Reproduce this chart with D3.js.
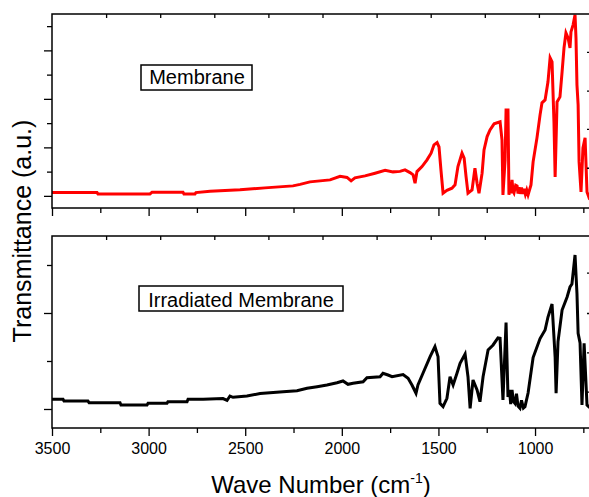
<!DOCTYPE html>
<html>
<head>
<meta charset="utf-8">
<script src="https://cdn.jsdelivr.net/npm/d3@7"></script>
<style>
    body { margin: 0; background: white; }
    svg { display: block; font-family: Arial, "Liberation Sans", sans-serif; }
</style>
</head>
<body>
<svg id="chart" width="589" height="497"></svg>
<script>
// values (wave number in cm-1, transmittance in a.u.)
const membraneWave = [3500,3267,3262,2993,2982,2822,2817,2760,2755,2682,2527,2398,2253,2216,2165,2061,2009,1973,1952,1932,1880,1828,1776,1735,1699,1673,1647,1631,1621,1611,1585,1559,1538,1523,1507,1497,1487,1476,1456,1430,1414,1399,1378,1367,1357,1347,1326,1311,1300,1290,1274,1264,1248,1233,1212,1181,1171,1166,1155,1150,1140,1135,1130,1125,1119,1114,1109,1100,1093,1088,1083,1078,1070,1062,1057,1050,1043,1036,1021,1010,990,974,964,948,933,922,912,902,896,886,871,860,850,840,829,819,814,803,793,788,783,777,772,762,752,741,731,720,705];
const membraneT = [0.068,0.068,0.041,0.041,0.076,0.076,0.041,0.041,0.068,0.093,0.124,0.165,0.206,0.237,0.289,0.330,0.402,0.381,0.309,0.371,0.412,0.468,0.526,0.495,0.505,0.536,0.480,0.433,0.262,0.501,0.604,0.742,0.880,1.052,1.099,1.010,0.536,0.056,0.113,0.159,0.227,0.604,0.880,0.777,0.398,0.056,0.124,0.571,0.262,0.056,0.468,0.948,1.223,1.361,1.485,1.526,1.155,0.021,0.742,1.773,1.773,0.021,0.25,0.05,0.330,0.10,0.062,0.22,0.206,0.05,0.18,0.041,0.17,0.04,0.144,0.03,0.12,0.021,0.227,0.701,1.196,1.670,1.918,1.979,2.351,2.845,2.763,1.526,0.392,1.938,2.041,2.557,3.052,3.361,3.258,3.052,3.381,3.526,3.732,3.258,2.289,1.876,0.701,0.082,0.990,1.196,0.082,-0.041,0.0];

const irradWave = [3500,3443,3438,3314,3308,3148,3143,3008,3003,2905,2900,2801,2796,2718,2615,2594,2579,2563,2491,2423,2304,2232,2180,2128,2077,2025,1994,1968,1942,1890,1870,1802,1787,1761,1740,1683,1657,1637,1616,1606,1580,1543,1518,1502,1492,1476,1456,1440,1424,1404,1388,1362,1347,1336,1321,1300,1285,1269,1243,1217,1192,1181,1166,1150,1140,1132,1126,1119,1112,1104,1096,1088,1078,1070,1060,1052,1036,1010,974,948,933,912,896,891,881,860,834,819,809,793,783,777,767,757,746,731,720,705];
const irradT = [0.101,0.101,0.083,0.083,0.066,0.066,0.042,0.042,0.059,0.059,0.076,0.076,0.101,0.101,0.109,0.089,0.135,0.122,0.135,0.161,0.180,0.191,0.216,0.232,0.250,0.274,0.292,0.257,0.268,0.284,0.325,0.336,0.372,0.354,0.336,0.359,0.320,0.250,0.164,0.250,0.372,0.545,0.649,0.545,0.059,0.024,0.111,0.336,0.250,0.372,0.476,0.573,0.336,0.007,0.302,0.198,0.076,0.336,0.615,0.667,0.740,0.736,0.094,0.901,0.125,0.20,0.05,0.198,0.08,0.059,0.16,0.03,0.007,0.09,0.01,0.024,0.167,0.536,0.734,0.823,0.958,1.094,0.542,0.164,0.703,1.031,1.167,1.271,1.302,1.604,1.205,0.789,0.688,0.042,0.684,0.042,0.021,0.03];

// ticks
const xLabelTicks = [3500,3000,2500,2000,1500,1000];
const xMinorTicks = [3250,2750,2250,1750,1250,750];
const xTopTicks = [3220,2940,2660,2380,2100,1820,1540,1260,980];
const topMajor = [0,1,2,3], topMinor = [0.5,1.5,2.5,3.5], topRight = [0.58,1.38,2.17,2.97];
const botMajor = [0,1], botMinor = [0.5,1.5], botRight = [0.18,0.59,1.0,1.42];

const svg = d3.select("#chart");
const left = 52, right = 593;
const x = d3.scaleLinear().domain([3500, 700]).range([left, right]);

const panels = [
    {id: "top", wave: membraneWave, t: membraneT, color: "#ff0000", top: 14, bottom: 208,
     domain: [-0.25, 3.75], major: topMajor, minor: topMinor, rightT: topRight, labels: false,
     note: "Membrane", box: [141, 65, 111, 25], textX: 197, textY: 84},
    {id: "bot", wave: irradWave, t: irradT, color: "#000000", top: 236, bottom: 428,
     domain: [-0.198, 1.802], major: botMajor, minor: botMinor, rightT: botRight, labels: true,
     note: "Irradiated Membrane", box: [139, 286, 204, 25], textX: 241, textY: 307}
];

function styleAxis(g) {
    g.select(".domain").remove();
    g.selectAll(".tick line").attr("stroke", "#000").attr("stroke-width", 1.3);
}

panels.forEach(p => {
    let y = d3.scaleLinear().domain(p.domain).range([p.bottom, p.top]);
    let g = svg.append("g");

    g.append("clipPath").attr("id", "clip-" + p.id)
        .append("rect").attr("x", left).attr("y", p.top)
        .attr("width", right - left).attr("height", p.bottom - p.top);

    let line = d3.line().x(d => x(d[0])).y(d => y(d[1]));
    g.append("path")
        .datum(d3.zip(p.wave, p.t))
        .attr("clip-path", "url(#clip-" + p.id + ")")
        .attr("fill", "none")
        .attr("stroke", p.color)
        .attr("stroke-width", 3)
        .attr("stroke-linejoin", "miter")
        .attr("d", line);

    // bottom axis
    g.append("g").attr("transform", "translate(0," + p.bottom + ")")
        .call(d3.axisBottom(x).tickValues(xMinorTicks).tickSize(5).tickFormat(""))
        .call(styleAxis);
    let bx = g.append("g").attr("transform", "translate(0," + p.bottom + ")")
        .call(d3.axisBottom(x).tickValues(xLabelTicks).tickSize(8).tickPadding(7)
              .tickFormat(p.labels ? d3.format("d") : ""))
        .call(styleAxis);
    bx.selectAll("text").attr("font-size", 16).attr("fill", "#000")
        .attr("font-family", "Arial, 'Liberation Sans', sans-serif");

    // top axis (inward ticks)
    g.append("g").attr("transform", "translate(0," + p.top + ")")
        .call(d3.axisBottom(x).tickValues(xTopTicks).tickSize(4).tickFormat(""))
        .call(styleAxis);

    // left axis
    g.append("g").attr("transform", "translate(" + left + ",0)")
        .call(d3.axisLeft(y).tickValues(p.major).tickSize(8).tickFormat(""))
        .call(styleAxis);
    g.append("g").attr("transform", "translate(" + left + ",0)")
        .call(d3.axisLeft(y).tickValues(p.minor).tickSize(5).tickFormat(""))
        .call(styleAxis);

    // right axis (inward ticks)
    g.append("g").attr("transform", "translate(" + right + ",0)")
        .call(d3.axisLeft(y).tickValues(p.rightT).tickSize(6).tickFormat(""))
        .call(styleAxis);

    // frame
    g.append("rect")
        .attr("x", left).attr("y", p.top)
        .attr("width", right - left).attr("height", p.bottom - p.top)
        .attr("fill", "none").attr("stroke", "#000").attr("stroke-width", 1.5);

    // label box
    g.append("rect")
        .attr("x", p.box[0]).attr("y", p.box[1])
        .attr("width", p.box[2]).attr("height", p.box[3])
        .attr("fill", "white").attr("stroke", "#000").attr("stroke-width", 1.5);
    g.append("text")
        .attr("x", p.textX).attr("y", p.textY)
        .attr("text-anchor", "middle")
        .attr("font-size", 20)
        .text(p.note);
});

// axis titles
svg.append("text")
    .attr("transform", "translate(31,231) rotate(-90)")
    .attr("text-anchor", "middle")
    .attr("font-size", 25)
    .text("Transmittance (a.u.)");

let xt = svg.append("text")
    .attr("x", 321).attr("y", 493)
    .attr("text-anchor", "middle")
    .attr("font-size", 24);
xt.append("tspan").text("Wave Number (cm");
xt.append("tspan").attr("font-size", 14).attr("dy", -10).text("-1");
xt.append("tspan").attr("dy", 10).text(")");
</script>
</body>
</html>
